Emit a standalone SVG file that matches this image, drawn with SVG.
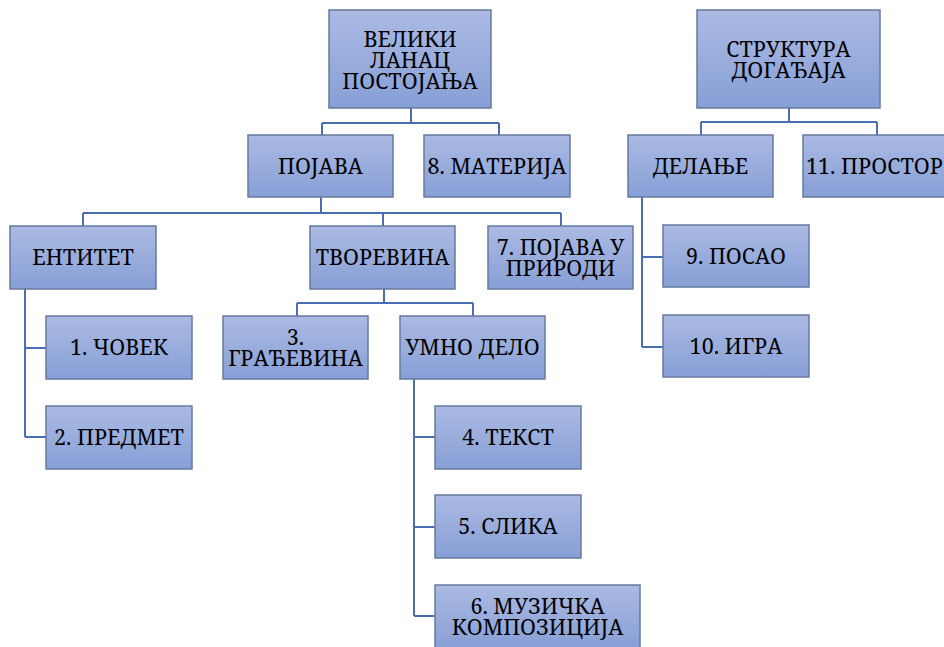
<svg xmlns="http://www.w3.org/2000/svg" width="944" height="647" viewBox="0 0 944 647">
<defs>
<linearGradient id="g" x1="0" y1="0" x2="0" y2="1">
<stop offset="0" stop-color="#abbae3"/>
<stop offset="1" stop-color="#879fd6"/>
</linearGradient>
<style>
.b{fill:url(#g);stroke:#667a9e;stroke-width:1.5}
.c{fill:none;stroke:#4a6eb3;stroke-width:2}
</style>
</defs>
<rect width="944" height="647" fill="#fff"/>
<g id="connectors" class="c">
<path d="M411,108 V123 M322,123 H499 M322,123 V135 M499,123 V135"/>
<path d="M321,197 V213 M83,213 H561 M83,213 V226 M383,213 V226 M561,213 V226"/>
<path d="M384,289 V303 M297,303 H473 M297,303 V316 M473,303 V316"/>
<path d="M25,289 V437 M25,348 H46 M25,437 H46"/>
<path d="M414,379 V616 M414,437 H435 M414,527 H435 M414,616 H435"/>
<path d="M789,108 V122 M701,122 H877 M701,122 V135 M877,122 V135"/>
<path d="M642,197 V347 M642,257 H663 M642,347 H663"/>
</g>
<g id="n0"><rect class="b" x="329" y="10" width="162" height="98"/><text font-family="Noto Serif, DejaVu Serif, serif" font-size="21.5" text-anchor="middle" x="410" y="46.5">ВЕЛИКИ</text><text font-family="Noto Serif, DejaVu Serif, serif" font-size="21.5" text-anchor="middle" x="410" y="67.5">ЛАНАЦ</text><text font-family="Noto Serif, DejaVu Serif, serif" font-size="21.5" text-anchor="middle" x="410" y="88.5">ПОСТОЈАЊА</text></g>
<g id="n1"><rect class="b" x="248" y="135" width="145" height="62"/><text font-family="Noto Serif, DejaVu Serif, serif" font-size="21.5" text-anchor="middle" x="320.5" y="173.5">ПОЈАВА</text></g>
<g id="n2"><rect class="b" x="424" y="135" width="146" height="62"/><text font-family="Noto Serif, DejaVu Serif, serif" font-size="21.5" text-anchor="middle" x="497" y="173.5">8. МАТЕРИЈА</text></g>
<g id="n3"><rect class="b" x="10" y="226" width="146" height="63"/><text font-family="Noto Serif, DejaVu Serif, serif" font-size="21.5" text-anchor="middle" x="83" y="265">ЕНТИТЕТ</text></g>
<g id="n4"><rect class="b" x="310" y="226" width="145" height="63"/><text font-family="Noto Serif, DejaVu Serif, serif" font-size="21.5" text-anchor="middle" x="382.5" y="265">ТВОРЕВИНА</text></g>
<g id="n5"><rect class="b" x="488" y="226" width="145" height="63"/><text font-family="Noto Serif, DejaVu Serif, serif" font-size="21.5" text-anchor="middle" x="560.5" y="255">7. ПОЈАВА У</text><text font-family="Noto Serif, DejaVu Serif, serif" font-size="21.5" text-anchor="middle" x="560.5" y="276">ПРИРОДИ</text></g>
<g id="n6"><rect class="b" x="46" y="316" width="146" height="63"/><text font-family="Noto Serif, DejaVu Serif, serif" font-size="21.5" text-anchor="middle" x="119" y="355">1. ЧОВЕК</text></g>
<g id="n7"><rect class="b" x="46" y="406" width="146" height="63"/><text font-family="Noto Serif, DejaVu Serif, serif" font-size="21.5" text-anchor="middle" x="119" y="445">2. ПРЕДМЕТ</text></g>
<g id="n8"><rect class="b" x="223" y="316" width="145" height="63"/><text font-family="Noto Serif, DejaVu Serif, serif" font-size="21.5" text-anchor="middle" x="295.5" y="345">3.</text><text font-family="Noto Serif, DejaVu Serif, serif" font-size="21.5" text-anchor="middle" x="295.5" y="366">ГРАЂЕВИНА</text></g>
<g id="n9"><rect class="b" x="400" y="316" width="145" height="63"/><text font-family="Noto Serif, DejaVu Serif, serif" font-size="21.5" text-anchor="middle" x="472.5" y="355">УМНО ДЕЛО</text></g>
<g id="n10"><rect class="b" x="435" y="406" width="146" height="63"/><text font-family="Noto Serif, DejaVu Serif, serif" font-size="21.5" text-anchor="middle" x="508" y="445">4. ТЕКСТ</text></g>
<g id="n11"><rect class="b" x="435" y="495" width="146" height="63"/><text font-family="Noto Serif, DejaVu Serif, serif" font-size="21.5" text-anchor="middle" x="508" y="534">5. СЛИКА</text></g>
<g id="n12"><rect class="b" x="435" y="585" width="205" height="64"/><text font-family="Noto Serif, DejaVu Serif, serif" font-size="21.5" text-anchor="middle" x="537.5" y="614">6. МУЗИЧКА</text><text font-family="Noto Serif, DejaVu Serif, serif" font-size="21.5" text-anchor="middle" x="537.5" y="635">КОМПОЗИЦИЈА</text></g>
<g id="n13"><rect class="b" x="697" y="10" width="183" height="98"/><text font-family="Noto Serif, DejaVu Serif, serif" font-size="21.5" text-anchor="middle" x="788.5" y="56.5">СТРУКТУРА</text><text font-family="Noto Serif, DejaVu Serif, serif" font-size="21.5" text-anchor="middle" x="788.5" y="77.5">ДОГАЂАЈА</text></g>
<g id="n14"><rect class="b" x="628" y="135" width="145" height="62"/><text font-family="Noto Serif, DejaVu Serif, serif" font-size="21.5" text-anchor="middle" x="700.5" y="173.5">ДЕЛАЊЕ</text></g>
<g id="n15"><rect class="b" x="803" y="135" width="143" height="62"/><text font-family="Noto Serif, DejaVu Serif, serif" font-size="21.5" x="806" y="173.5" textLength="137" lengthAdjust="spacingAndGlyphs">11. ПРОСТОР</text></g>
<g id="n16"><rect class="b" x="663" y="225" width="146" height="62"/><text font-family="Noto Serif, DejaVu Serif, serif" font-size="21.5" text-anchor="middle" x="736" y="263.5">9. ПОСАО</text></g>
<g id="n17"><rect class="b" x="663" y="315" width="146" height="62"/><text font-family="Noto Serif, DejaVu Serif, serif" font-size="21.5" text-anchor="middle" x="736" y="353.5">10. ИГРА</text></g>
</svg>
